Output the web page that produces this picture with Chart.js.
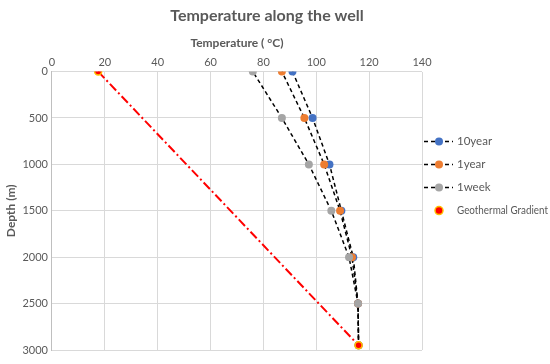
<!DOCTYPE html>
<html>
<head>
<meta charset="utf-8">
<script src="https://cdn.jsdelivr.net/npm/chart.js@4.4.0/dist/chart.umd.min.js"></script>
<style>
  html, body { margin: 0; padding: 0; background: #fff; }
  #wrap { width: 550px; height: 364px; }
</style>
</head>
<body>
<div id="wrap"><canvas id="myChart" width="550" height="364"></canvas></div>
<script>
// depths (m) where temperatures were read
const depths = [0, 500, 1000, 1500, 2000, 2500, 2950];
// temperatures (°C) per series
const temp10year = [91, 98.6, 105, 109.5, 114, 115.8, 116];
const temp1year = [87, 95.5, 103, 109, 113.5, 115.8, 116];
const temp1week = [76, 87, 97.2, 105.7, 112.4, 115.8, 116];
// geothermal gradient end points
const gradDepths = [0, 2950];
const gradTemps = [17.5, 116];

const seriesNames = ['10year', '1year', '1week', 'Geothermal Gradient'];
const tempTicks = [0, 20, 40, 60, 80, 100, 120, 140];
const depthTicks = [0, 500, 1000, 1500, 2000, 2500, 3000];

const font = "Lato, 'Open Sans', sans-serif";
const textColor = '#595959';

function toPoints(temps, ds) {
    return temps.map((t, i) => ({ x: t, y: ds[i] }));
}

function dashedSeries(label, temps, color, offset, order) {
    return {
        label: label,
        data: toPoints(temps, depths),
        showLine: true,
        borderColor: '#000',
        borderWidth: 1.5,
        borderDash: [4, 3],
        borderDashOffset: offset,
        pointRadius: 4,
        pointBackgroundColor: color,
        pointBorderColor: color,
        pointBorderWidth: 0,
        order: order
    };
}

// title + legend drawn by hand, Excel style
const extras = {
    id: 'extras',
    afterDraw(chart) {
        const ctx = chart.ctx;
        ctx.save();
        ctx.fillStyle = textColor;
        ctx.textAlign = 'center';
        ctx.textBaseline = 'middle';
        ctx.font = 'bold 16px ' + font;
        ctx.fillText('Temperature along the well', 267, 16);

        const x0 = chart.chartArea.right + 2;
        let y = chart.chartArea.top + 70;
        ctx.textAlign = 'left';
        ctx.font = '11.5px ' + font;
        chart.data.datasets.forEach(ds => {
            if (ds.showLegendLine) {
                ctx.strokeStyle = '#000';
                ctx.lineWidth = 1.5;
                ctx.setLineDash([4, 3]);
                ctx.beginPath();
                ctx.moveTo(x0, y);
                ctx.lineTo(x0 + 29, y);
                ctx.stroke();
                ctx.setLineDash([]);
            }
            ctx.beginPath();
            ctx.arc(x0 + 15, y, 4, 0, Math.PI * 2);
            ctx.fillStyle = ds.pointBackgroundColor;
            ctx.fill();
            if (ds.pointBorderWidth) {
                ctx.lineWidth = ds.pointBorderWidth;
                ctx.strokeStyle = ds.pointBorderColor;
                ctx.stroke();
            }
            ctx.fillStyle = textColor;
            ctx.fillText(ds.label, x0 + 33, y, 91);
            y += 23;
        });
        ctx.restore();
    }
};

const datasets = [
    dashedSeries(seriesNames[0], temp10year, '#4472C4', 0, 3),
    dashedSeries(seriesNames[1], temp1year, '#ED7D31', 2.3, 2),
    dashedSeries(seriesNames[2], temp1week, '#A5A5A5', 4.6, 1),
    {
        label: seriesNames[3],
        data: toPoints(gradTemps, gradDepths),
        showLine: true,
        borderColor: '#FF0000',
        borderWidth: 2,
        borderDash: [9, 3, 2, 3],
        pointRadius: 3.5,
        pointBackgroundColor: '#FF0000',
        pointBorderColor: '#FFC000',
        pointBorderWidth: 1.5,
        order: 0
    }
];
datasets.forEach((d, i) => { d.showLegendLine = i < 3; });

new Chart(document.getElementById('myChart').getContext('2d'), {
    type: 'scatter',
    data: { datasets: datasets },
    plugins: [extras],
    options: {
        responsive: false,
        animation: false,
        layout: { padding: { left: 0, right: 128, top: 36, bottom: 14 } },
        plugins: {
            legend: { display: false },
            tooltip: { enabled: false },
            title: { display: false }
        },
        scales: {
            x: {
                type: 'linear',
                position: 'top',
                min: 0,
                max: 140,
                afterBuildTicks: axis => { axis.ticks = tempTicks.map(v => ({ value: v })); },
                ticks: { color: textColor, font: { family: font, size: 11 }, padding: 3 },
                grid: { color: '#D9D9D9', drawTicks: false },
                border: { display: false },
                title: {
                    display: true,
                    text: 'Temperature ( °C)',
                    color: textColor,
                    font: { family: font, size: 12, weight: 'bold' },
                    padding: { top: 0, bottom: 2 }
                }
            },
            y: {
                type: 'linear',
                reverse: true,
                min: 0,
                max: 3000,
                afterBuildTicks: axis => { axis.ticks = depthTicks.map(v => ({ value: v })); },
                ticks: {
                    color: textColor,
                    font: { family: font, size: 11 },
                    padding: 4,
                    callback: v => String(v)
                },
                grid: { color: '#D9D9D9', drawTicks: false },
                border: { color: '#BFBFBF' },
                title: {
                    display: true,
                    text: 'Depth (m)',
                    color: textColor,
                    font: { family: font, size: 12, weight: 'bold' },
                    padding: { top: 4, bottom: 0 }
                }
            }
        }
    }
});
</script>
</body>
</html>
